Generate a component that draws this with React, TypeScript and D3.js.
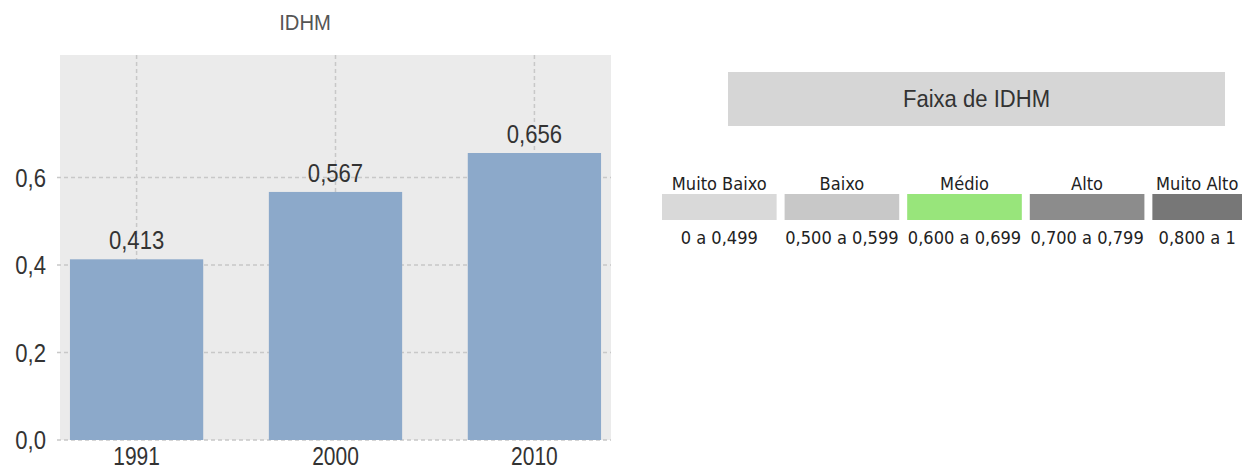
import { useEffect, useRef } from "react";
import * as d3 from "d3";

const anos = ["1991", "2000", "2010"];
const idhm = [0.413, 0.567, 0.656];
const yTicks = [0, 0.2, 0.4, 0.6];

const faixas = ["Muito Baixo", "Baixo", "Médio", "Alto", "Muito Alto"];
const faixasIntervalo = ["0 a 0,499", "0,500 a 0,599", "0,600 a 0,699", "0,700 a 0,799", "0,800 a 1"];
const faixasCor = ["#d9d9d9", "#c8c8c8", "#98e57b", "#8c8c8c", "#777777"];

const sans = "'Liberation Sans', Arial, sans-serif";
const dejavu = "'DejaVu Sans', sans-serif";

export default function App() {
  const ref = useRef<SVGSVGElement>(null);

  useEffect(() => {
    draw();
  }, []);

  function draw() {
    const svg = d3.select(ref.current);
    svg.selectAll("*").remove();

    const plot = { left: 60, right: 611, top: 55, bottom: 440 };

    const x = d3.scaleBand().domain(anos).range([plot.left, plot.right]).paddingInner(0.33).paddingOuter(0.05);
    const y = d3.scaleLinear().domain([0, 0.88]).range([plot.bottom, plot.top]);
    const fmt = (v: number, d: number) => v.toFixed(d).replace(".", ",");
    const cx = (d: string) => x(d)! + x.bandwidth() / 2;

    // texto estreito (simula Arial Narrow com scaleX no transform)
    function narrowText(g: any, px: number) {
      return g
        .style("font-family", sans)
        .style("font-size", px + "px")
        .style("fill", "#333")
        .attr("text-anchor", "middle");
    }

    // titulo
    narrowText(svg.append("text"), 22)
      .attr("transform", "translate(305,30) scale(0.92,1)")
      .style("fill", "#555")
      .text("IDHM");

    // fundo
    svg.append("rect")
      .attr("x", plot.left).attr("y", plot.top)
      .attr("width", plot.right - plot.left).attr("height", plot.bottom - plot.top)
      .attr("fill", "#ebebeb");

    // grade horizontal
    svg.append("g").selectAll("line").data(yTicks).enter().append("line")
      .attr("x1", plot.left - 3).attr("x2", plot.right)
      .attr("y1", d => y(d)).attr("y2", d => y(d))
      .attr("stroke", "#c8c8c8").attr("stroke-width", 1.5).attr("stroke-dasharray", "4,3");

    // grade vertical
    svg.append("g").selectAll("line").data(anos).enter().append("line")
      .attr("x1", cx).attr("x2", cx)
      .attr("y1", plot.top).attr("y2", plot.bottom)
      .attr("stroke", "#c8c8c8").attr("stroke-width", 1.5).attr("stroke-dasharray", "4,3");

    // eixo y
    narrowText(svg.append("g").selectAll("text").data(yTicks).enter().append("text"), 26)
      .attr("text-anchor", "end")
      .attr("transform", (d: number) => `translate(46,${y(d) + 9}) scale(0.85,1)`)
      .text((d: number) => fmt(d, 1));

    // barras
    svg.append("g").selectAll("rect").data(idhm).enter().append("rect")
      .attr("x", (d, i) => x(anos[i])!)
      .attr("y", d => y(d))
      .attr("width", x.bandwidth())
      .attr("height", d => y(0) - y(d))
      .attr("fill", "#8ca9ca");

    // rotulos dos valores
    narrowText(svg.append("g").selectAll("text").data(idhm).enter().append("text"), 26)
      .attr("transform", (d: number, i: number) => `translate(${cx(anos[i])},${y(d) - 10}) scale(0.85,1)`)
      .text((d: number) => fmt(d, 3));

    // eixo x
    narrowText(svg.append("g").selectAll("text").data(anos).enter().append("text"), 25)
      .attr("transform", (d: string) => `translate(${cx(d)},465) scale(0.84,1)`)
      .text((d: string) => d);

    // legenda
    const leg = svg.append("g");
    leg.append("rect")
      .attr("x", 728).attr("y", 72).attr("width", 497).attr("height", 54)
      .attr("fill", "#d6d6d6");
    narrowText(leg.append("text"), 24)
      .attr("transform", "translate(976.5,107) scale(0.92,1)")
      .text("Faixa de IDHM");

    const lx = d3.scaleBand().domain(faixas).range([662, 1267]).paddingInner(0.065);
    const limite = 1242;
    const w = (d: string) => Math.min(lx.bandwidth(), limite - lx(d)!);
    const item = leg.selectAll("g.item").data(faixas).enter().append("g").attr("class", "item");
    item.append("rect")
      .attr("x", d => lx(d)!)
      .attr("y", 194)
      .attr("width", w)
      .attr("height", 26)
      .attr("fill", (d, i) => faixasCor[i]);
    item.append("text")
      .attr("transform", d => `translate(${lx(d)! + w(d) / 2},190) scale(0.93,1)`)
      .attr("text-anchor", "middle")
      .style("font-family", dejavu).style("font-size", "17.5px").style("fill", "#222")
      .text(d => d);
    item.append("text")
      .attr("transform", d => `translate(${lx(d)! + w(d) / 2},244) scale(0.93,1)`)
      .attr("text-anchor", "middle")
      .style("font-family", dejavu).style("font-size", "17.5px").style("fill", "#222")
      .text((d, i) => faixasIntervalo[i]);
  }

  return (
    <svg
      ref={ref}
      width={1253}
      height={470}
      style={{ position: "absolute", left: 0, top: 0, background: "#fff" }}
    />
  );
}
